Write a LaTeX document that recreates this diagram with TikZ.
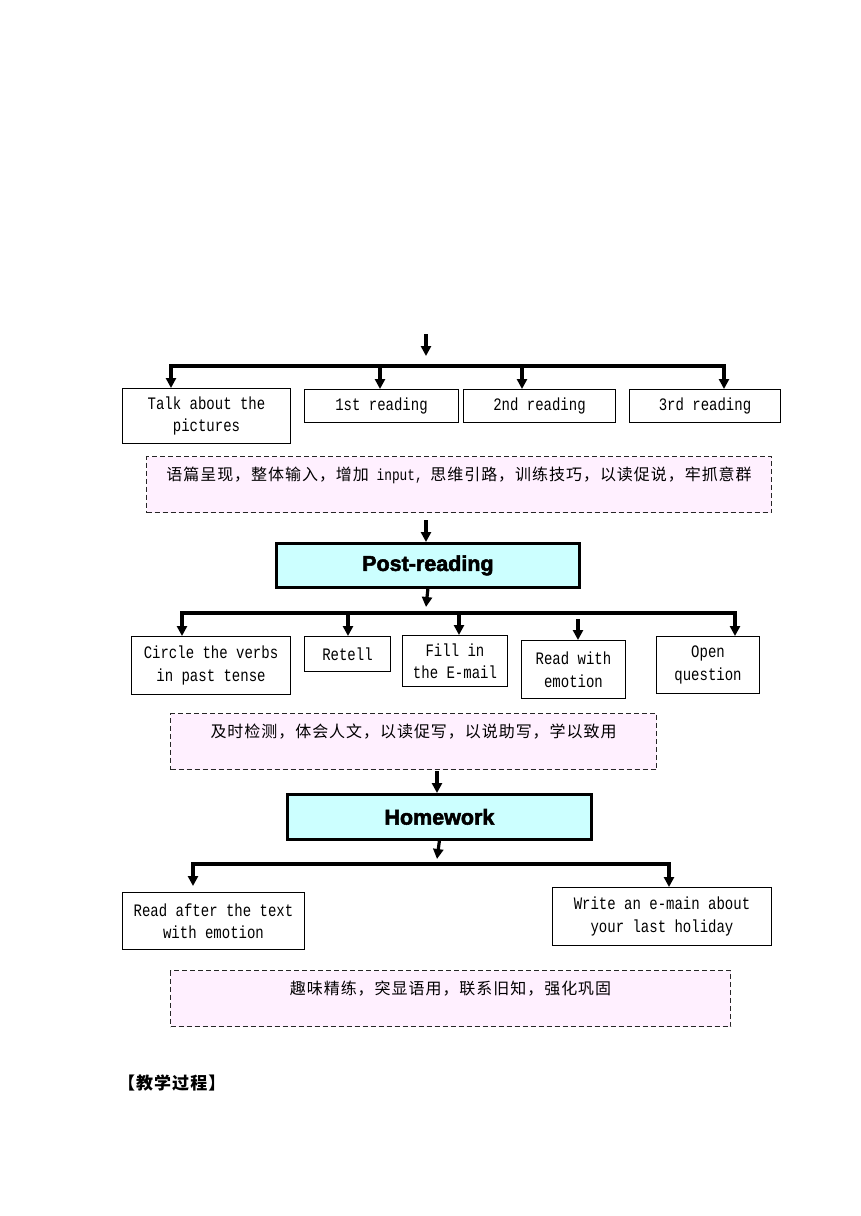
\documentclass[tikz,border=0pt]{standalone}
\usepackage{fontspec}
\setmainfont{Liberation Mono}[FakeStretch=0.8]
\newfontfamily\cjk{Noto Sans CJK SC}[LetterSpace=6]
\newfontfamily\titlefont{Liberation Sans}[BoldFeatures={FakeBold=2.5}]
\usetikzlibrary{arrows.meta}
\definecolor{pinkfill}{RGB}{255,240,255}
\definecolor{cyanfill}{RGB}{204,255,255}
\tikzset{
 box/.style={draw=black, line width=1pt, fill=white, align=center, inner sep=0pt,
   font=\fontsize{17.5}{22.5}\selectfont, anchor=north west},
 titlebox/.style={draw=black, line width=2.8pt, fill=cyanfill, inner sep=0pt,
   font=\titlefont\bfseries\fontsize{21.5}{26}\selectfont, anchor=north west},
 dbox/.style={draw=black!85, line width=1.1pt, dash pattern=on 5pt off 3pt, fill=pinkfill,
   inner sep=0pt, anchor=north west},
 dtext/.style={font=\cjk\fontsize{16}{20}\selectfont, anchor=base, inner sep=0pt},
 bar/.style={line width=3.2pt, line cap=rect},
 arr/.style={line width=3.2pt, -{Triangle[length=10pt,width=10pt]}},
}
\begin{document}
\begin{tikzpicture}[x=1pt,y=-1pt]
\useasboundingbox (0,0) rectangle (860,1216);

% ---------- row 1 ----------
\node[box, minimum width=168pt, minimum height=55pt] (n11) at (122,388) {Talk about the\\pictures};
\node[box, minimum width=154pt, minimum height=33pt] (n12) at (304,389) {1st reading};
\node[box, minimum width=152pt, minimum height=33pt] (n13) at (463,389) {2nd reading};
\node[box, minimum width=151pt, minimum height=33pt] (n14) at (629,389) {3rd reading};

\coordinate (t0) at (426,334);
\coordinate (t1) at (426,356);
\draw[arr] (t0) -- (t1);

\coordinate (c11) at (171,366);
\coordinate (c12) at (380,366);
\coordinate (c13) at (522,366);
\coordinate (c14) at (724,366);
\draw[bar] (c11) -- (c14);
\draw[arr] (c11) -- (c11 |- n11.north);
\draw[arr] (c12) -- (c12 |- n12.north);
\draw[arr] (c13) -- (c13 |- n13.north);
\draw[arr] (c14) -- (c14 |- n14.north);

\node[dbox, minimum width=625pt, minimum height=56pt] (d1) at (146,456) {};
\node[dtext] (d1t) at ([yshift=-24pt]d1.north) {语篇呈现，整体输入，增加{\rmfamily\fontsize{16}{20}\selectfont\ input,\ }思维引路，训练技巧，以读促说，牢抓意群};

% ---------- post-reading ----------
\node[titlebox, minimum width=303pt, minimum height=44pt] (post) at (275,542) {Post-reading};
\coordinate (p0) at (426,520);
\draw[arr] (p0) -- (p0 |- post.north);

\node[box, minimum width=159pt, minimum height=58pt] (n21) at (131,636) {Circle the verbs\\in past tense};
\node[box, minimum width=86pt, minimum height=35pt] (n22) at (304,636) {Retell};
\node[box, minimum width=105pt, minimum height=51pt] (n23) at (402,635) {Fill in\\the E-mail};
\node[box, minimum width=104pt, minimum height=58pt] (n24) at (521,640) {Read with\\emotion};
\node[box, minimum width=103pt, minimum height=57pt] (n25) at (656,636) {Open\\question};

\coordinate (p1) at (426,607);
\draw[arr] (post.south) -- (p1);
\coordinate (c21) at (182,613);
\coordinate (c22) at (348,613);
\coordinate (c23) at (459,613);
\coordinate (c24) at (578,619);
\coordinate (c25) at (735,613);
\draw[bar] (c21) -- (c25);
\draw[arr] (c21) -- (c21 |- n21.north);
\draw[arr] (c22) -- (c22 |- n22.north);
\draw[arr] (c23) -- (c23 |- n23.north);
\draw[arr] (c24) -- (c24 |- n24.north);
\draw[arr] (c25) -- (c25 |- n25.north);

\node[dbox, minimum width=486pt, minimum height=56pt] (d2) at (170,713) {};
\node[dtext] (d2t) at ([yshift=-24pt]d2.north) {及时检测，体会人文，以读促写，以说助写，学以致用};

% ---------- homework ----------
\node[titlebox, minimum width=304pt, minimum height=45pt] (hw) at (286,793) {Homework};
\coordinate (h0) at (437,771);
\draw[arr] (h0) -- (h0 |- hw.north);
\coordinate (h1) at (437,859);
\draw[arr] (hw.south) -- (h1);

\node[box, minimum width=182pt, minimum height=57pt] (n31) at (122,892) {Read after the text\\with emotion};
\node[box, minimum width=219pt, minimum height=58pt] (n32) at (552,887) {Write an e-main about\\your last holiday};

\coordinate (c31) at (193,864);
\coordinate (c32) at (669,864);
\coordinate (e31) at (193,886);
\draw[bar] (c31) -- (c32);
\draw[arr] (c31) -- (e31);
\draw[arr] (c32) -- (c32 |- n32.north);

\node[dbox, minimum width=560pt, minimum height=56pt] (d3) at (170,970) {};
\node[dtext] (d3t) at ([yshift=-24pt]d3.north) {趣味精练，突显语用，联系旧知，强化巩固};

\node[font=\cjk\bfseries\fontsize{17}{20}\selectfont, anchor=base west, inner sep=0pt] (jx) at (118,1089) {【教学过程】};
\end{tikzpicture}
\end{document}
